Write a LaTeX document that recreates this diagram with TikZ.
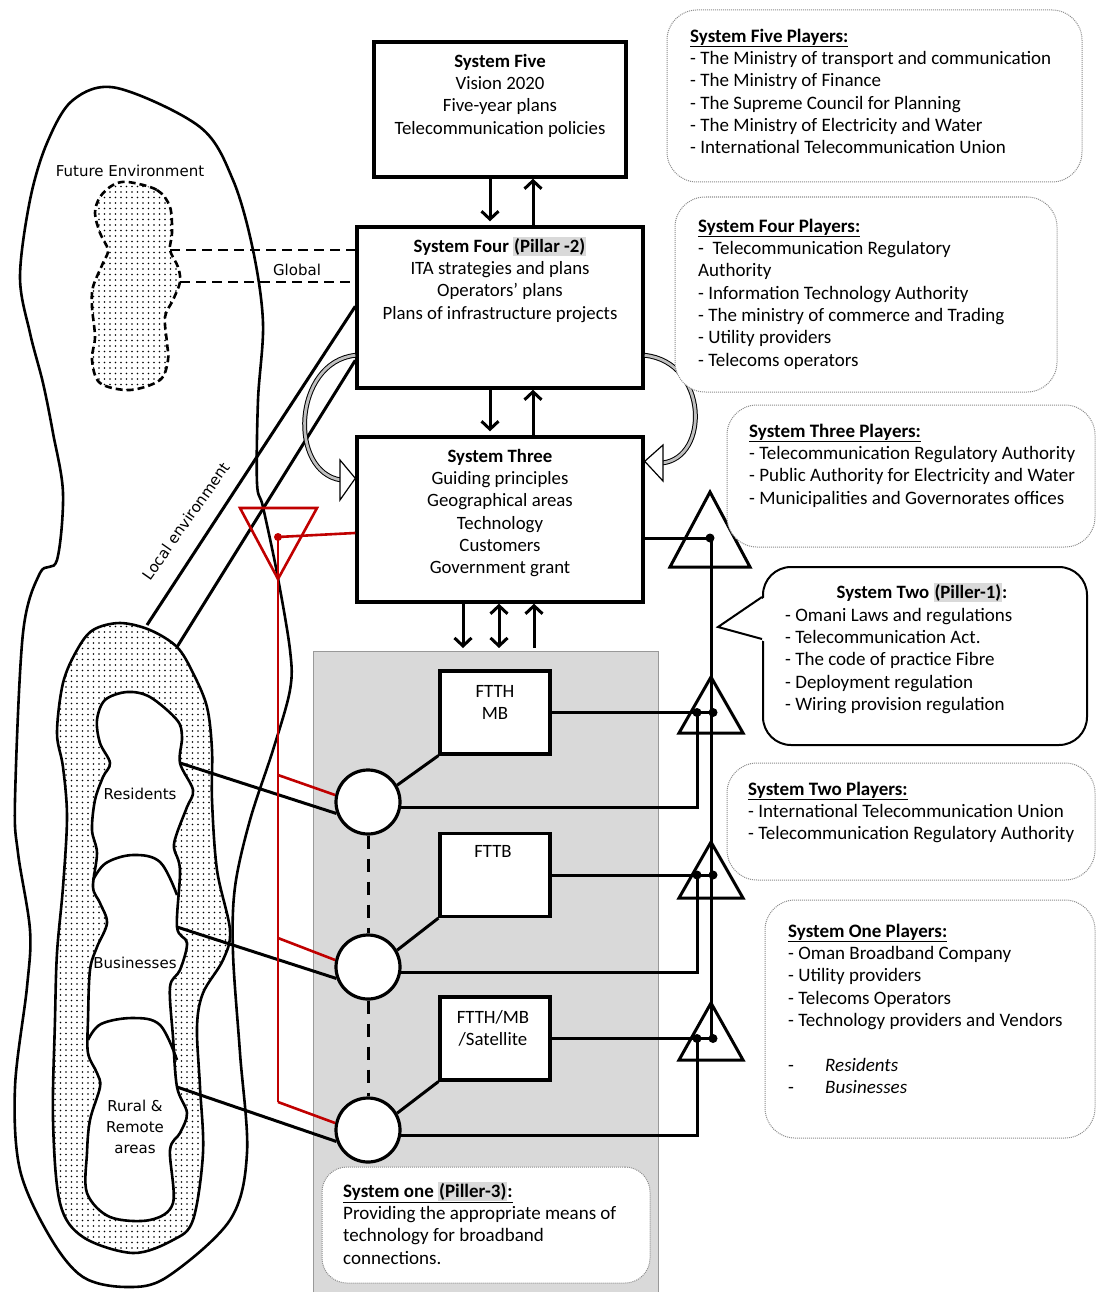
\documentclass[tikz,border=0pt]{standalone}
\usepackage{fontspec}
\setmainfont{Carlito}
\newfontfamily\labelfont{DejaVu Sans}
\usetikzlibrary{arrows.meta,patterns.meta,calc}
\definecolor{hl}{HTML}{D9D9D9}
\definecolor{areagray}{HTML}{D9D9D9}
\definecolor{linkred}{HTML}{C00000}
\newcommand\fl{\rule{0pt}{15pt}}
\newcommand\hlbox[1]{{\setlength{\fboxsep}{1pt}\colorbox{hl}{#1}}}

\begin{document}
\begin{tikzpicture}[x=1pt,y=-1pt,
  sysbox/.style={draw, line width=3.4pt, fill=white, inner sep=0pt},
  techbox/.style={draw, line width=3.2pt, fill=white, inner sep=0pt, minimum width=110pt, minimum height=83pt},
  hub/.style={circle, draw, line width=3.2pt, fill=white, minimum size=64pt, inner sep=0pt},
  boxtext/.style={inner sep=0pt, align=center, anchor=north, font=\fontsize{18.8}{22.3}\selectfont},
  listtext/.style={inner sep=0pt, align=left, anchor=north west, font=\fontsize{19}{22.3}\selectfont},
  lbl/.style={inner sep=0pt, font=\labelfont\fontsize{15}{21}\selectfont},
  playerbox/.style={draw=black!45, densely dotted, line width=1pt, rounded corners=30pt, inner sep=0pt, fill=white},
  conn/.style={line width=3pt},
  redline/.style={draw=linkred, line width=2.6pt},
  arr/.style={line width=3pt, -{Straight Barb[length=8pt,width=17pt]}},
  twoway/.style={line width=3pt, {Straight Barb[length=8pt,width=17pt]}-{Straight Barb[length=8pt,width=17pt]}},
  twin/.style={draw=black, line width=1pt, double=black!25, double distance=2.8pt},
  edge/.style={line width=2.6pt},
  dotfill/.style={pattern={Dots[distance=5.5pt, radius=0.85pt]}, pattern color=black}
]
\useasboundingbox (0,0) rectangle (1097,1292);
\fill[white] (0,0) rectangle (1097,1292);

% ---------- environment ----------
\draw[edge] plot[smooth cycle, tension=0.55] coordinates {
  (117,88) (200,127) (233,180) (253,250) (263,323) (258,400) (257,483)
  (263,507) (277,573) (290,650) (290,690) (273,750) (250,820) (235,887)
  (233,953) (240,1053) (247,1153) (230,1220) (167,1277) (127,1287)
  (83,1277) (50,1237) (20,1170) (15,1087) (27,987) (30,930) (18,853)
  (15,800) (23,633) (40,573) (57,560) (63,493) (53,433) (43,383) (30,333)
  (20,277) (30,200) (47,143) (73,100)};

% future environment
\draw[dotfill, line width=2.6pt, dash pattern=on 7pt off 4pt] plot[smooth cycle, tension=0.55] coordinates {
  (128,182) (157,190) (170,207) (172,233) (170,250) (178,267) (180,282)
  (173,300) (165,317) (167,343) (168,360) (160,380) (130,390) (100,383)
  (92,360) (95,337) (92,307) (93,287) (103,263) (108,250) (100,233)
  (95,213) (100,197) (113,185)};
\coordinate (fe1) at (170,250);
\coordinate (fe2) at (180,282);
\node[lbl, anchor=base] (fut) at (130,177) {Future Environment};

% local customers ring
\draw[edge, dotfill] plot[smooth cycle, tension=0.55] coordinates {
  (120,623) (150,630) (177,647) (193,673) (207,707) (212,750) (212,800)
  (217,870) (230,930) (223,960) (203,993) (197,1027) (200,1087) (203,1153)
  (193,1220) (173,1240) (133,1253) (83,1237) (60,1203) (53,1120) (55,1020)
  (57,953) (63,887) (67,817) (63,767) (57,733) (63,683) (77,650) (93,630)};
\draw[edge, fill=white] plot[smooth cycle, tension=0.55] coordinates {
  (127,692) (150,697) (177,720) (182,737) (180,763) (193,790) (187,807)
  (177,833) (174,848) (180,870) (177,927) (187,943) (180,970) (170,987)
  (173,1037) (177,1087) (187,1113) (180,1133) (170,1150) (173,1203)
  (150,1220) (110,1217) (87,1193) (87,1153) (90,1120) (100,1087) (97,1073)
  (88,1053) (88,1020) (90,970) (97,947) (107,923) (100,903) (93,887)
  (97,853) (92,830) (95,800) (103,777) (110,763) (100,743) (97,720) (105,700)};
\draw[edge] plot[smooth, tension=0.6] coordinates {(93,880) (106,863) (133,855) (160,862) (177,895)};
\draw[edge] plot[smooth, tension=0.6] coordinates {(88,1040) (101,1024) (133,1018) (160,1025) (177,1060)};
\coordinate (res) at (180,763);
\coordinate (bus) at (177,927);
\coordinate (rur) at (177,1087);
\coordinate (ringA) at (147,625);
\coordinate (ringB) at (177,647);
\node[lbl, anchor=base] (lres) at (140,799) {Residents};
\node[lbl, anchor=base] (lbus) at (135,968) {Businesses};
\node[lbl, align=center, anchor=north] (lrur) at (135,1099) {\rule{0pt}{12pt}Rural \&\\Remote\\areas};
\node[lbl, rotate=55] (lloc) at (186,521) {Local environment};

% ---------- system boxes ----------
\node[sysbox, minimum width=252pt, minimum height=135pt] (s5) at (500,109.5) {};
\node[sysbox, minimum width=286pt, minimum height=161pt] (s4) at (500,307.5) {};
\node[sysbox, minimum width=286pt, minimum height=165pt] (s3) at (500,519.5) {};
\node[boxtext] (t5) at (500,52) {\fl\textbf{System Five}\\Vision 2020\\Five-year plans\\Telecommunication policies};
\node[boxtext] (t4) at (500,237) {\fl\textbf{System Four \hlbox{(Pillar -2)}}\\ITA strategies and plans\\Operators’ plans\\Plans of infrastructure projects};
\node[boxtext] (t3) at (500,447) {\fl\textbf{System Three}\\Guiding principles\\Geographical areas\\Technology\\Customers\\Government grant};

\node[lbl, anchor=base] (glob) at (297,275) {Global};
\draw[line width=2.8pt, dash pattern=on 10pt off 6pt] (fe1) -- (s4.west |- fe1);
\draw[line width=2.8pt, dash pattern=on 10pt off 6pt] (fe2) -- (s4.west |- fe2);
\draw[conn] (ringA) -- ([yshift=-81pt]s4.north west);
\draw[conn] (ringB) -- ([yshift=-135pt]s4.north west);

% vertical flows
\draw[arr] ([xshift=-10pt]s5.south) -- ([xshift=-10pt,yshift=4pt]s4.north);
\draw[arr] ([xshift=33pt]s4.north) -- ([xshift=33pt]s5.south);
\draw[arr] ([xshift=-10pt]s4.south) -- ([xshift=-10pt,yshift=4pt]s3.north);
\draw[arr] ([xshift=33pt]s3.north) -- ([xshift=33pt]s4.south);

% feedback loops
\coordinate (la) at (341,480);
\coordinate (ra) at (662,463);
\draw[twin] ([yshift=-130pt]s4.north west) .. controls (293,362) and (288,472) .. (la);
\draw[line width=1.2pt, fill=white] (340,460) -- ([yshift=-43pt]s3.north west) -- (340,500) -- cycle;
\draw[twin] ([yshift=-130pt]s4.north east) .. controls (708,362) and (710,458) .. (ra);
\draw[line width=1.2pt, fill=white] (663,445) -- ([yshift=-26pt]s3.north east) -- (663,481) -- cycle;

% ---------- technology area ----------
\node[draw=black!40, fill=areagray, line width=1pt, minimum width=345pt, minimum height=650pt, inner sep=0pt, anchor=north west] (zone) at (313,651) {};
\draw[arr] ([xshift=-37pt]s3.south) -- ([xshift=-37pt,yshift=3pt]s3.south |- zone.north);
\draw[twoway] ([xshift=-1pt]s3.south) -- ([xshift=-1pt,yshift=3pt]s3.south |- zone.north);
\draw[arr] ([xshift=34pt,yshift=3pt]s3.south |- zone.north) -- ([xshift=34pt]s3.south);

\node[techbox] (b1) at (495,712.5) {};
\node[techbox] (b2) at (495,875) {};
\node[techbox] (b3) at (495,1038.5) {};
\node[boxtext] at (495,682) {\fl FTTH\\MB};
\node[boxtext] at (493,842) {\fl FTTB};
\node[boxtext] at (493,1008) {\fl FTTH/MB\\/Satellite};

\node[hub] (c1) at (368,802) {};
\node[hub] (c2) at (368,967) {};
\node[hub] (c3) at (368,1130) {};
\draw[line width=3pt, dash pattern=on 13pt off 10pt] (c1.south) -- (c2.north);
\draw[line width=3pt, dash pattern=on 13pt off 10pt] (c2.south) -- (c3.north);
\draw[conn] (c1.30) -- (b1.south west);
\draw[conn] (c2.30) -- (b2.south west);
\draw[conn] (c3.30) -- (b3.south west);
\draw[conn] (res) -- (c1.200);
\draw[conn] (bus) -- (c2.200);
\draw[conn] (rur) -- (c3.200);

\node[playerbox, minimum width=328pt, minimum height=116pt, rounded corners=25pt] (s1) at (486,1225) {};
\node[listtext] (s1t) at (343,1182) {\fl\textbf{\underline{System one \hlbox{(Piller-3)}:}}\\Providing the appropriate means of\\technology for broadband\\connections.};

% ---------- regulation links ----------
\coordinate (rdot) at (278,537);
\coordinate (rb1) at (278,775);
\coordinate (rb2) at (278,938);
\coordinate (rb3) at (278,1102);
\draw[redline] (240,508) -- (317,508) -- (278,579) -- cycle;
\draw[redline] (rdot) -- ($(s3.north west)!0.58!(s3.south west)$);
\draw[redline] (rdot) -- (rb3);
\draw[redline] (rb1) -- (c1.168);
\draw[redline] (rb2) -- (c2.168);
\draw[redline] (rb3) -- (c3.168);
\fill[linkred] (rdot) circle (4pt);

\coordinate (t1) at (710,538);
\coordinate (t2R) at (713,712.5);
\coordinate (t2L) at (697,712.5);
\coordinate (t3R) at (713,875);
\coordinate (t3L) at (697,875);
\coordinate (t4R) at (713,1038.5);
\coordinate (t4L) at (697,1038.5);
\draw[line width=3pt] (710,492) -- (750,567) -- (670,567) -- cycle;
\draw[line width=3pt] (711,677) -- (743,733) -- (679,733) -- cycle;
\draw[line width=3pt] (711,842) -- (743,898) -- (679,898) -- cycle;
\draw[line width=3pt] (711,1003) -- (743,1060) -- (679,1060) -- cycle;
\draw[conn] (s3.east |- t1) -- (t1);
\draw[conn] (t1) -- (711,538) -- (711,1038.5);
\draw[conn] (b1.east) -- (t2R);
\draw[conn] (b2.east) -- (t3R);
\draw[conn] (b3.east) -- (t4R);
\draw[conn] (c1.-10) -| (t2L);
\draw[conn] (c2.-10) -| (t3L);
\draw[conn] (c3.-10) -| (t4L);
\foreach \p in {t1,t2R,t2L,t3R,t3L,t4R,t4L} \fill (\p) circle (4.5pt);

% ---------- players ----------
\node[playerbox, minimum width=415pt, minimum height=172pt] (p5) at (874.5,96) {};
\node[listtext] at (690,27) {\fl\textbf{\underline{System Five Players:}}\\- The Ministry of transport and communication\\- The Ministry of Finance\\- The Supreme Council for Planning\\- The Ministry of Electricity and Water\\- International Telecommunication Union};

\node[playerbox, minimum width=382pt, minimum height=195pt] (p4) at (866,294.5) {};
\node[listtext] at (698,217) {\fl\textbf{\underline{System Four Players:}}\\-\ \ Telecommunication Regulatory\\Authority\\- Information Technology Authority\\- The ministry of commerce and Trading\\- Utility providers\\- Telecoms operators};

\node[playerbox, minimum width=368pt, minimum height=142pt] (p3) at (911,476) {};
\node[listtext] at (749,422) {\fl\textbf{\underline{System Three Players:}}\\- Telecommunication Regulatory Authority\\- Public Authority for Electricity and Water\\- Municipalities and Governorates offices};

\node[draw, line width=2pt, rounded corners=28pt, fill=white, minimum width=324pt, minimum height=178pt, inner sep=0pt] (s2) at (925,656) {};
\fill[white] (767,596) -- (718,627) -- (767,642) -- cycle;
\draw[line width=2pt] ([yshift=-31pt]s2.north west) -- (718,627) -- ([yshift=-73pt]s2.north west);
\node[boxtext] at (922,583) {\fl\textbf{System Two \hlbox{(Piller-1)}:}};
\node[listtext] at (785,606) {\fl - Omani Laws and regulations\\- Telecommunication Act.\\- The code of practice Fibre\\- Deployment regulation\\- Wiring provision regulation};

\node[playerbox, minimum width=368pt, minimum height=117pt] (p2) at (911,821.5) {};
\node[listtext] at (748,780) {\fl\textbf{\underline{System Two Players:}}\\- International Telecommunication Union\\- Telecommunication Regulatory Authority};

\node[playerbox, minimum width=330pt, minimum height=238pt] (p1) at (930,1019) {};
\node[listtext] at (788,922) {\fl\textbf{\underline{System One Players:}}\\- Oman Broadband Company\\- Utility providers\\- Telecoms Operators\\- Technology providers and Vendors\\[22.3pt]\makebox[37pt][l]{-}\textit{Residents}\\\makebox[37pt][l]{-}\textit{Businesses}};
\end{tikzpicture}
\end{document}
